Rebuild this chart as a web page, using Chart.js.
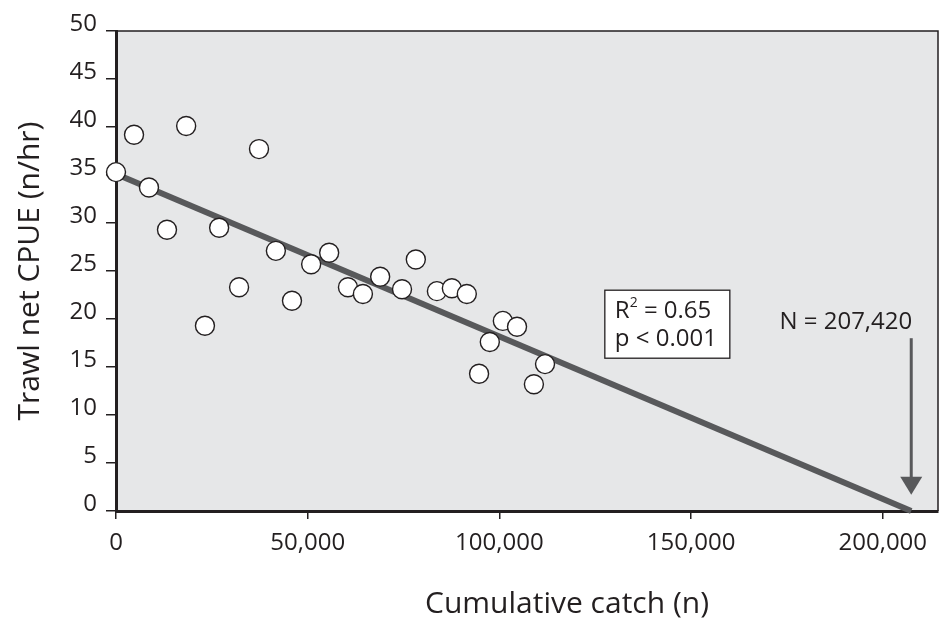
<!DOCTYPE html>
<html>
<head>
<meta charset="utf-8">
<script src="https://cdn.jsdelivr.net/npm/chart.js@4.4.1/dist/chart.umd.min.js"></script>
<style>
  html, body { margin: 0; padding: 0; background: #fff; overflow: hidden; }
  canvas { display: block; }
</style>
</head>
<body>
<canvas id="cpueChart" width="941" height="622"></canvas>
<script>
const cumCatch = [0, 4700, 8600, 13300, 18300, 23200, 26900, 32100, 37300, 41700, 45900,
    50900, 55600, 60500, 64400, 68900, 74600, 78200, 83700, 87600, 91500,
    94700, 97500, 100900, 104600, 109000, 111900];
const cpue = [35.3, 39.2, 33.7, 29.3, 40.1, 19.3, 29.5, 23.3, 37.7, 27.1, 21.9,
    25.7, 26.9, 23.3, 22.6, 24.4, 23.1, 26.2, 22.9, 23.2, 22.6,
    14.3, 17.6, 19.8, 19.2, 13.2, 15.3];

// Regression line (Leslie depletion), crosses zero at N
const fitX = [0, 207420];
const fitY = [35.1, 0];

const xTicks = [0, 50000, 100000, 150000, 200000];
const yTicks = [0, 5, 10, 15, 20, 25, 30, 35, 40, 45, 50];

const r2Value = '0.65';
const pText = 'p < 0.001';
const popLabel = 'N = 207,420';

// where the annotations sit, in data units
const statsAt = { x: 127500, y: 23.0 };
const arrowFrom = { x: 207420, y: 18.0 };
const arrowTo = { x: 207420, y: 1.7 };

const ink = '#231f20';
const lineGray = '#58595b';
const fontFamily = '"Open Sans", "Noto Sans", sans-serif';

const plotFrame = {
    id: 'plotFrame',
    beforeDraw(chart) {
        const { ctx, chartArea: a } = chart;
        ctx.save();
        ctx.fillStyle = '#e6e7e8';
        ctx.fillRect(a.left, a.top, a.right - a.left, a.bottom - a.top);
        ctx.strokeStyle = ink;
        ctx.lineWidth = 1.5;
        ctx.beginPath();
        ctx.moveTo(a.left, a.top);
        ctx.lineTo(a.right, a.top);
        ctx.lineTo(a.right, a.bottom);
        ctx.stroke();
        ctx.restore();
    }
};

const notes = {
    id: 'notes',
    afterDatasetsDraw(chart) {
        const { ctx, scales: { x, y } } = chart;
        ctx.save();
        ctx.font = '24px ' + fontFamily;
        ctx.fillStyle = ink;
        ctx.textBaseline = 'middle';

        // stats box
        const bx = x.getPixelForValue(statsAt.x);
        const by = y.getPixelForValue(statsAt.y);
        const tx = bx + 10;
        ctx.fillStyle = '#fff';
        ctx.fillRect(bx, by, 125, 68);
        ctx.strokeStyle = ink;
        ctx.lineWidth = 1.3;
        ctx.strokeRect(bx, by, 125, 68);
        ctx.fillStyle = ink;
        ctx.textAlign = 'left';
        ctx.fillText('R', tx, by + 21);
        const rw = ctx.measureText('R').width;
        ctx.font = '14px ' + fontFamily;
        ctx.fillText('2', tx + rw, by + 13);
        const sw = ctx.measureText('2').width;
        ctx.font = '24px ' + fontFamily;
        ctx.fillText(' = ' + r2Value, tx + rw + sw, by + 21);
        ctx.fillText(pText, tx, by + 49);

        // arrow to N
        const ax = x.getPixelForValue(arrowFrom.x);
        const ay0 = y.getPixelForValue(arrowFrom.y);
        const ay1 = y.getPixelForValue(arrowTo.y);
        ctx.strokeStyle = lineGray;
        ctx.fillStyle = lineGray;
        ctx.lineWidth = 3;
        ctx.beginPath();
        ctx.moveTo(ax, ay0);
        ctx.lineTo(ax, ay1 - 14);
        ctx.stroke();
        ctx.beginPath();
        ctx.moveTo(ax - 11, ay1 - 18);
        ctx.lineTo(ax + 11, ay1 - 18);
        ctx.lineTo(ax, ay1);
        ctx.closePath();
        ctx.fill();

        ctx.fillStyle = ink;
        ctx.textAlign = 'right';
        ctx.fillText(popLabel, ax + 1, ay0 - 16);
        ctx.restore();
    },
    afterDraw(chart) {
        // x axis title sits right of centre in the original
        const { ctx } = chart;
        ctx.save();
        ctx.font = '30px ' + fontFamily;
        ctx.fillStyle = ink;
        ctx.textAlign = 'center';
        ctx.textBaseline = 'middle';
        ctx.fillText('Cumulative catch (n)', 567, 604);
        ctx.restore();
    }
};

const ctx = document.getElementById('cpueChart').getContext('2d');
new Chart(ctx, {
    type: 'scatter',
    data: {
        datasets: [{
            label: 'CPUE',
            data: cumCatch.map((v, i) => ({ x: v, y: cpue[i] })),
            pointRadius: 9.5,
            pointBackgroundColor: '#fff',
            pointBorderColor: ink,
            pointBorderWidth: 1.4,
            clip: false,
            order: 0
        }, {
            label: 'Fit',
            data: fitX.map((v, i) => ({ x: v, y: fitY[i] })),
            showLine: true,
            borderColor: lineGray,
            borderWidth: 6,
            pointRadius: 0,
            clip: false,
            order: 1
        }]
    },
    options: {
        responsive: false,
        animation: false,
        events: [],
        layout: { autoPadding: false, padding: { top: 31, right: 3, left: 0, bottom: 0 } },
        plugins: { legend: { display: false }, tooltip: { enabled: false } },
        scales: {
            x: {
                type: 'linear',
                min: 0,
                max: 214400,
                afterFit: s => { s.height = 111; s.paddingLeft = 0; s.paddingRight = 0; },
                afterBuildTicks: s => { s.ticks = xTicks.map(v => ({ value: v })); },
                grid: { drawOnChartArea: false, drawTicks: true, tickLength: 8, color: ink, lineWidth: 1.5 },
                border: { display: true, color: ink, width: 3 },
                ticks: {
                    autoSkip: false,
                    maxRotation: 0,
                    padding: 10,
                    color: ink,
                    font: { family: fontFamily, size: 24 },
                    callback: v => v.toLocaleString('en-US')
                }
            },
            y: {
                min: 0,
                max: 50,
                afterFit: s => { s.width = 116; s.paddingTop = 0; s.paddingBottom = 0; },
                afterBuildTicks: s => { s.ticks = yTicks.map(v => ({ value: v })); },
                grid: { drawOnChartArea: false, drawTicks: true, tickLength: 10, color: ink, lineWidth: 1.5 },
                border: { display: true, color: ink, width: 3 },
                ticks: {
                    padding: 9,
                    labelOffset: -7,
                    color: ink,
                    font: { family: fontFamily, size: 24 }
                },
                title: {
                    display: true,
                    text: 'Trawl net CPUE (n/hr)',
                    color: ink,
                    font: { family: fontFamily, size: 30 },
                    padding: { top: 12, bottom: 0 }
                }
            }
        }
    },
    plugins: [plotFrame, notes]
});
</script>
</body>
</html>
